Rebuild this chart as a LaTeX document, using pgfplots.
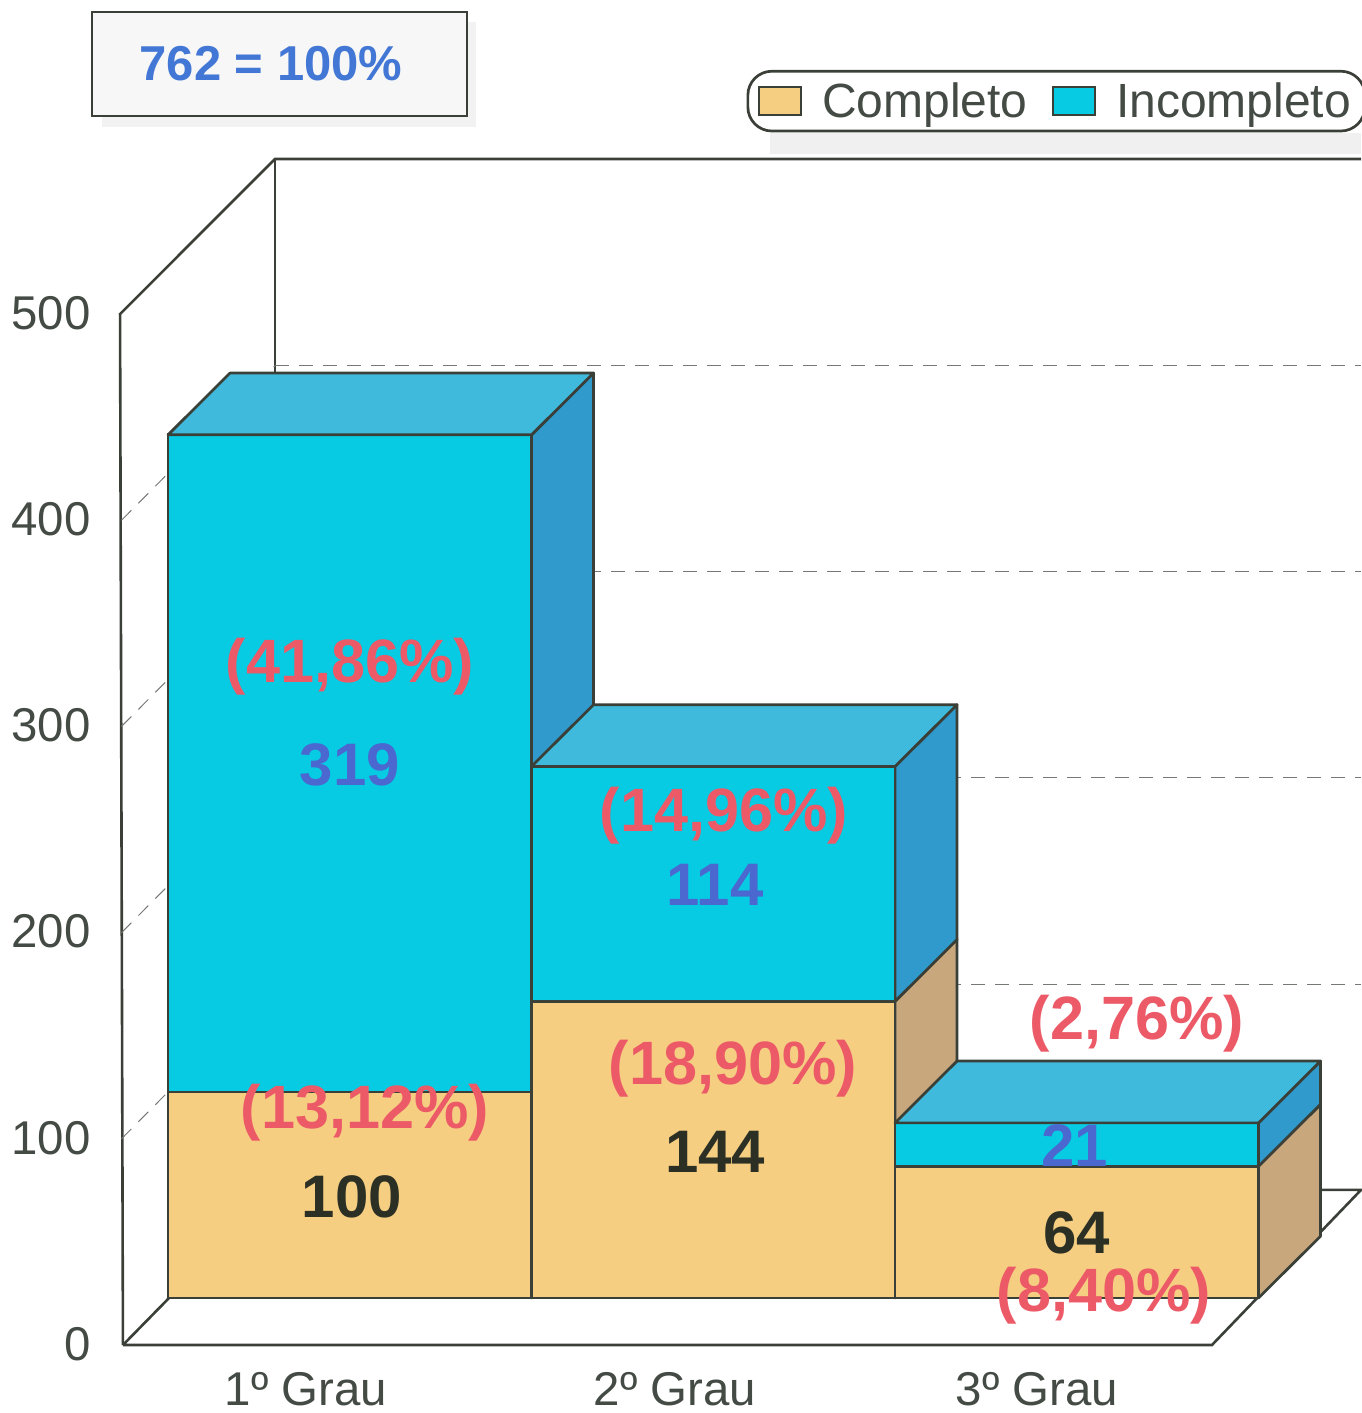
\documentclass[border=0pt]{standalone}
\usepackage{fontspec}
\setmainfont{Liberation Sans}
\usepackage{pgfplots}
\pgfplotsset{compat=1.18}
\definecolor{lin}{HTML}{3A4038}
\definecolor{txt}{HTML}{444A44}
\definecolor{cyanF}{HTML}{06CBE3}
\definecolor{cyanS}{HTML}{2F9ACB}
\definecolor{cyanT}{HTML}{3FBADC}
\definecolor{tanF}{HTML}{F6CE82}
\definecolor{tanS}{HTML}{C9A77C}
\definecolor{redL}{HTML}{EC5A68}
\definecolor{bluL}{HTML}{4A68D0}
\definecolor{nbk}{HTML}{2C3024}
\pgfplotsset{
  face/.style={draw=lin,line width=1.35pt,line join=round,forget plot},
  frame/.style={draw=lin,line width=1.3pt,forget plot},
  grid dash/.style={draw=lin!70,line width=0.5pt,dash pattern=on 7pt off 5pt,forget plot},
}
\tikzset{
  pct/.style={font=\fontsize{30.6}{30.6}\selectfont\bfseries,text=redL,inner sep=0pt},
  valb/.style={font=\fontsize{30}{30}\selectfont\bfseries,text=bluL,inner sep=0pt},
  valk/.style={font=\fontsize{30}{30}\selectfont\bfseries,text=nbk,inner sep=0pt},
}
\begin{document}
\begin{tikzpicture}
\useasboundingbox (0,0) rectangle (680.5pt,706.5pt);
% title box and legend shadow
\begin{scope}[shift={(0pt,706.5pt)},x=0.5pt,y=-0.5pt]
\fill[black!5] (102,116) rectangle (476,127);
\fill[black!5] (467,22) rectangle (476,127);
\fill[black!6] (770,133) rectangle (1361,154);
\node[draw=lin,line width=1.35pt,fill=black!3,minimum width=187.5pt,minimum height=52pt,inner sep=0pt] at (279.5,64) {};
\node[inner sep=0pt,font=\fontsize{24.5}{24.5}\selectfont\bfseries,text=bluL!90!cyan] at (271,64) {762 = 100\%};
\end{scope}
% frame axis: walls, floor, ticks
\begin{axis}[
  at={(60.75pt,34pt)},anchor=south west,
  scale only axis,width=619.75pt,height=593.5pt,
  xmin=0,xmax=3.4146,ymin=0,ymax=575.7,
  clip=false,
  axis line style={draw=none},
  major tick length=0pt,
  ytick={0,100,200,300,400,500},
  xtick={0.508,1.525,2.522},
  xticklabels={1º Grau,2º Grau,3º Grau},
  tick label style={font=\fontsize{23.7}{23.7}\selectfont,text=txt},
  yticklabel style={/pgf/number format/assume math mode=true,xshift=-12pt,yshift=0.5pt},
  xticklabel style={inner sep=0pt,yshift=-13.5pt},
]
\addplot[frame] coordinates {(0.004,0) (3.004,0) (3.4146,75.2) (0.4229,75.2) (0.004,0)};
\addplot[frame] coordinates {(0.004,0) (-0.004,500) (0.4229,575.2) (3.4146,575.2)};
\addplot[frame] coordinates {(0.4229,575.2) (0.4229,75.2)};
\addplot[grid dash] coordinates {(0.4229,175) (3.4146,175)};
\addplot[grid dash] coordinates {(0.4229,275) (3.4146,275)};
\addplot[grid dash] coordinates {(0.4229,375) (3.4146,375)};
\addplot[grid dash] coordinates {(0.4229,475) (3.4146,475)};
\addplot[grid dash] coordinates {(0,100) (0.4229,175)};
\addplot[grid dash] coordinates {(0,200) (0.4229,275)};
\addplot[grid dash] coordinates {(0,300) (0.4229,375)};
\addplot[grid dash] coordinates {(0,400) (0.4229,475)};
\end{axis}
% bars
\begin{axis}[
  at={(84pt,57.5pt)},anchor=south west,
  scale only axis,width=545.25pt,height=515pt,
  xmin=0,xmax=3,ymin=0,ymax=500,
  clip=false,
  hide axis,
  legend style={at={(0.5305,1.162)},anchor=west,draw=lin,line width=1.35pt,rounded corners=12pt,
    fill=white,inner xsep=5pt,inner ysep=3.5pt,legend columns=2,
    font=\fontsize{24}{24}\selectfont,text=txt,
    /tikz/every odd column/.append style={column sep=8pt},
    /tikz/every even column/.append style={column sep=10pt}},
  legend image code/.code={\draw[#1,sharp corners,line width=1.2pt] (0pt,-7pt) rectangle (21pt,7pt);},
]
% bar 1
\addplot[face,fill=tanS] coordinates {(1,0) (1.1706,30) (1.1706,130) (1,100)} --cycle;
\addplot[draw=lin,line width=1.35pt,fill=tanF] coordinates {(0,0) (1,0) (1,100) (0,100)} --cycle;
\addlegendentry{Completo}
\addplot[face,fill=cyanS] coordinates {(1,100) (1.1706,130) (1.1706,449) (1,419)} --cycle;
\addplot[draw=lin,line width=1.35pt,fill=cyanF] coordinates {(0,100) (1,100) (1,419) (0,419)} --cycle;
\addlegendentry{Incompleto}
\addplot[face,fill=cyanT] coordinates {(0,419) (1,419) (1.1706,449) (0.1706,449)} --cycle;
% bar 2
\addplot[face,fill=tanS] coordinates {(2,0) (2.1706,30) (2.1706,174) (2,144)} --cycle;
\addplot[face,fill=tanF] coordinates {(1,0) (2,0) (2,144) (1,144)} --cycle;
\addplot[face,fill=cyanS] coordinates {(2,144) (2.1706,174) (2.1706,288) (2,258)} --cycle;
\addplot[face,fill=cyanF] coordinates {(1,144) (2,144) (2,258) (1,258)} --cycle;
\addplot[face,fill=cyanT] coordinates {(1,258) (2,258) (2.1706,288) (1.1706,288)} --cycle;
% bar 3
\addplot[face,fill=tanS] coordinates {(3,0) (3.1706,30) (3.1706,94) (3,64)} --cycle;
\addplot[face,fill=tanF] coordinates {(2,0) (3,0) (3,64) (2,64)} --cycle;
\addplot[face,fill=cyanS] coordinates {(3,64) (3.1706,94) (3.1706,115) (3,85)} --cycle;
\addplot[face,fill=cyanF] coordinates {(2,64) (3,64) (3,85) (2,85)} --cycle;
\addplot[face,fill=cyanT] coordinates {(2,85) (3,85) (3.1706,115) (2.1706,115)} --cycle;
% labels
\node[pct] at (axis cs:0.5007,306.5) {(41,86\%)};
\node[valb] at (axis cs:0.5007,258.7) {319};
\node[pct] at (axis cs:1.53,234) {(14,96\%)};
\node[valb] at (axis cs:1.505,200.5) {114};
\node[pct] at (axis cs:0.542,90) {(13,12\%)};
\node[valk] at (axis cs:0.506,49) {100};
\node[pct] at (axis cs:1.554,111.2) {(18,90\%)};
\node[valk] at (axis cs:1.505,70.9) {144};
\node[pct] at (axis cs:2.666,133) {(2,76\%)};
\node[valb] at (axis cs:2.495,73.8) {21};
\node[valk] at (axis cs:2.50,31.6) {64};
\node[pct] at (axis cs:2.575,1) {(8,40\%)};
\end{axis}
\end{tikzpicture}
\end{document}
